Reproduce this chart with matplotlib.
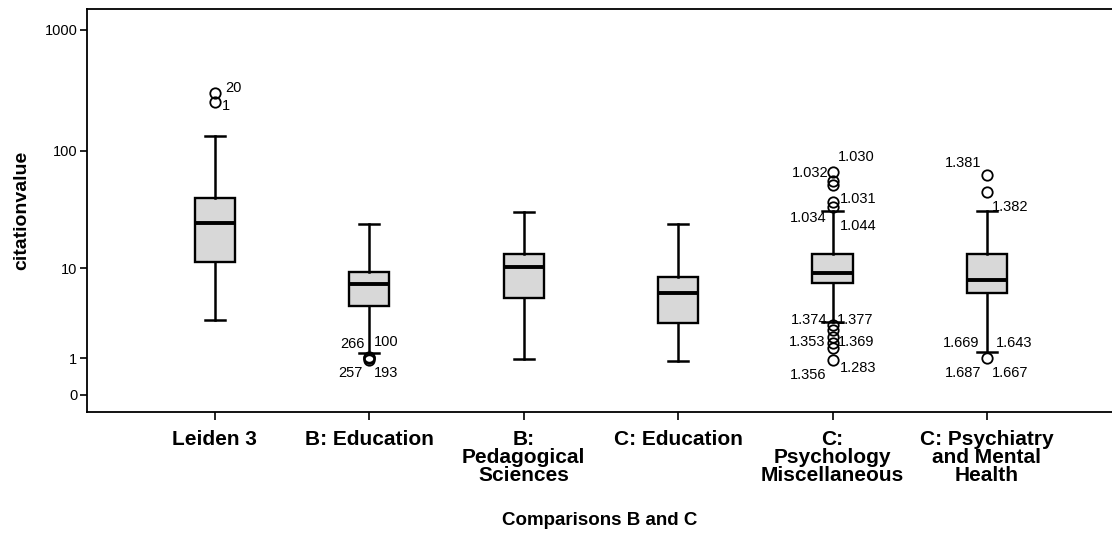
import numpy as np
import matplotlib.pyplot as plt
from matplotlib.ticker import FixedLocator, NullLocator

plt.rcParams['font.family'] = ['Liberation Sans', 'DejaVu Sans']

# categories and box statistics
categories = ["Leiden 3", "B: Education", "B:\nPedagogical\nSciences", "C: Education",
              "C:\nPsychology\nMiscellaneous", "C: Psychiatry\nand Mental\nHealth"]
medians = [24.8, 7.15, 10.24, 5.88, 9.04, 7.79]
q1 = [11.4, 4.38, 5.26, 2.90, 7.31, 5.88]
q3 = [40.4, 9.23, 13.4, 8.31, 13.4, 13.4]
whislo = [3.13, 1.21, 0.98, 0.90, 2.97, 1.25]
whishi = [132.8, 24.3, 30.8, 24.3, 31.4, 31.4]
fliers = [
    [254, 300],
    [0.95, 1.0, 1.0, 1.05],
    [],
    [],
    [66.8, 56, 52, 37.4, 34, 2.76, 2.42, 1.99, 1.67, 1.43, 0.94],
    [63, 45.4, 1.01],
]

# case labels next to outliers: (group index, outlier value, label)
case_labels = [
    (0, 300, "20"), (0, 254, "1"),
    (1, 1.0, "266"), (1, 1.0, "100"), (1, 1.0, "257"), (1, 1.0, "193"),
    (4, 66.8, "1.030"), (4, 66.8, "1.032"), (4, 37.4, "1.031"),
    (4, 34, "1.034"), (4, 34, "1.044"),
    (4, 2.76, "1.374"), (4, 2.76, "1.377"), (4, 1.67, "1.353"), (4, 1.67, "1.369"),
    (4, 0.94, "1.356"), (4, 0.94, "1.283"),
    (5, 63, "1.381"), (5, 45.4, "1.382"),
    (5, 1.01, "1.669"), (5, 1.01, "1.643"), (5, 1.01, "1.687"), (5, 1.01, "1.667"),
]
# pixel offsets of each label (dx, dy) - layout only
label_offsets = [
    (10, 5), (7, -4),
    (-5, 14), (5, 16), (-7, -15), (5, -15),
    (5, 15), (-4, -1), (7, 3),
    (-6, -11), (7, -19),
    (-5, 5), (4, 5), (-7, 1), (5, 1),
    (-6, -15), (7, -8),
    (-6, 12), (5, -15),
    (-8, 15), (9, 15), (-6, -15), (5, -15),
]

ytick_vals = [0, 1, 10, 100, 1000]
ytick_labels = ["0", "1", "10", "100", "1000"]


def fwd(v):
    return np.log10(np.asarray(v, dtype=float) + 1)


def inv(t):
    return 10 ** np.asarray(t, dtype=float) - 1


fig = plt.figure(figsize=(11.12, 5.38), dpi=100)
ax = fig.add_axes([87 / 1112, 1 - 412 / 538, 1 - 87 / 1112, (412 - 9) / 538])

positions = np.arange(1, len(categories) + 1)
stats = []
for i in range(len(categories)):
    stats.append(dict(med=medians[i], q1=q1[i], q3=q3[i], whislo=whislo[i],
                      whishi=whishi[i], fliers=fliers[i]))

ax.bxp(stats, positions=positions, widths=0.26, capwidths=0.13, patch_artist=True,
       boxprops=dict(facecolor='#d8d8d8', edgecolor='black', linewidth=1.7),
       medianprops=dict(color='black', linewidth=2.8),
       whiskerprops=dict(color='black', linewidth=1.8),
       capprops=dict(color='black', linewidth=1.8),
       flierprops=dict(marker='o', markerfacecolor='none', markeredgecolor='black',
                       markersize=7.5, markeredgewidth=1.3))

ax.set_yscale('function', functions=(fwd, inv))
ax.set_ylim(-0.275, 1475)
ax.set_xlim(0.172, 6.81)
ax.yaxis.set_major_locator(FixedLocator(ytick_vals))
ax.yaxis.set_minor_locator(NullLocator())
ax.set_yticklabels(ytick_labels)

ax.set_xticks(positions)
ax.set_xticklabels(categories, fontsize=15, linespacing=0.92, fontweight='semibold')
ax.tick_params(axis='x', length=6, width=1.2, pad=7)
ax.tick_params(axis='y', length=5, width=1.2, pad=2, labelsize=10.5)

for (g, val, txt), (dx, dy) in zip(case_labels, label_offsets):
    ax.annotate(txt, xy=(positions[g], val), xytext=(dx, dy), textcoords='offset pixels',
                ha='left' if dx > 0 else 'right', va='center', fontsize=10.5)

ax.spines['right'].set_visible(False)
for s in ['left', 'bottom', 'top']:
    ax.spines[s].set_linewidth(1.3)

ax.set_xlabel("Comparisons B and C", fontsize=13.5, fontweight='bold', labelpad=20)
ax.set_ylabel("citationvalue", fontsize=14, fontweight='bold', labelpad=10)

fig.savefig("out.png", dpi=100)
